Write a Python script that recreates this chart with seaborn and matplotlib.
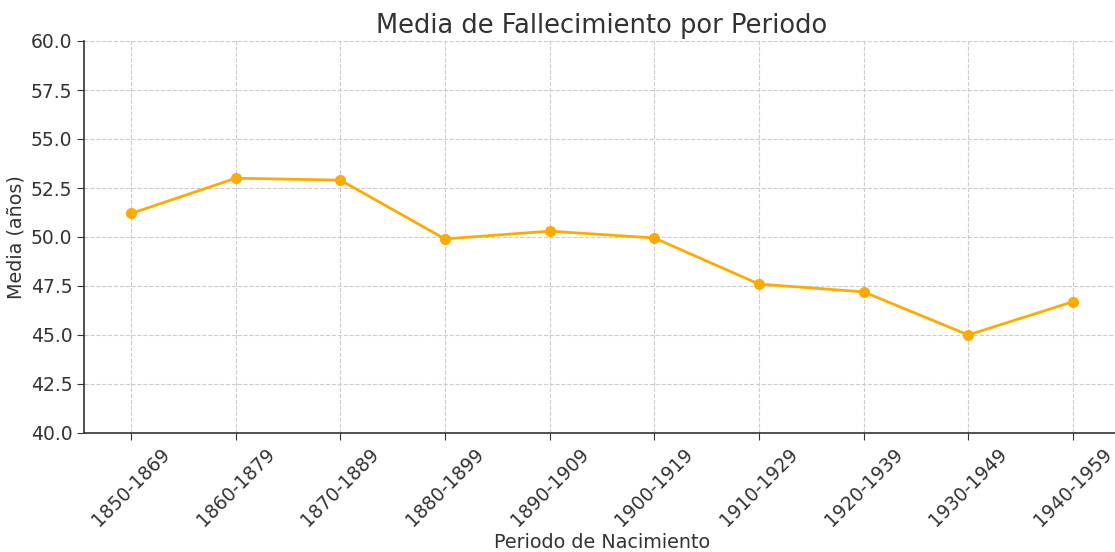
import pandas as pd
import matplotlib
matplotlib.use('Agg')
import matplotlib.pyplot as plt
import seaborn as sns

# Data
periodos = ['1850-1869', '1860-1879', '1870-1889', '1880-1899', '1890-1909',
            '1900-1919', '1910-1929', '1920-1939', '1930-1949', '1940-1959']
medias = [51.2, 53.0, 52.9, 49.9, 50.3, 49.95, 47.6, 47.2, 45.0, 46.7]

df = pd.DataFrame({'periodo': periodos, 'media': medias})

sns.set_style("whitegrid", {'grid.linestyle': '--', 'grid.color': '#cccccc'})
plt.rcParams['font.family'] = ['DejaVu Sans']

fig = plt.figure(figsize=(11.15, 5.52), dpi=100)
ax = fig.add_axes([84 / 1115, 1 - 433 / 552, (1120 - 84) / 1115, (433 - 41) / 552])

sns.lineplot(data=df, x='periodo', y='media', marker='o', color='#ffaa00',
             linewidth=2, markersize=8, markeredgewidth=0, ax=ax, sort=False)

ax.set_ylim(40, 60)
ax.set_xlim(-0.45, 9.45)
ax.set_title('Media de Fallecimiento por Periodo', fontsize=18.5, color='#333333', pad=6)
ax.set_xlabel('Periodo de Nacimiento', fontsize=13.8, color='#333333', labelpad=2)
ax.set_ylabel('Media (años)', fontsize=13.8, color='#333333')
ax.tick_params(axis='x', labelrotation=45, labelsize=13.5, colors='#333333', length=5)
ax.tick_params(axis='y', labelsize=13.5, colors='#333333', length=5)
ax.tick_params(axis='both', which='major', bottom=True, left=True)
ax.grid(True, linestyle='--', color='#cccccc', linewidth=0.8)

for side in ['top', 'right']:
    ax.spines[side].set_visible(False)
for side in ['left', 'bottom']:
    ax.spines[side].set_color('#333333')
    ax.spines[side].set_linewidth(1.2)

fig.savefig('out.png', dpi=100)
